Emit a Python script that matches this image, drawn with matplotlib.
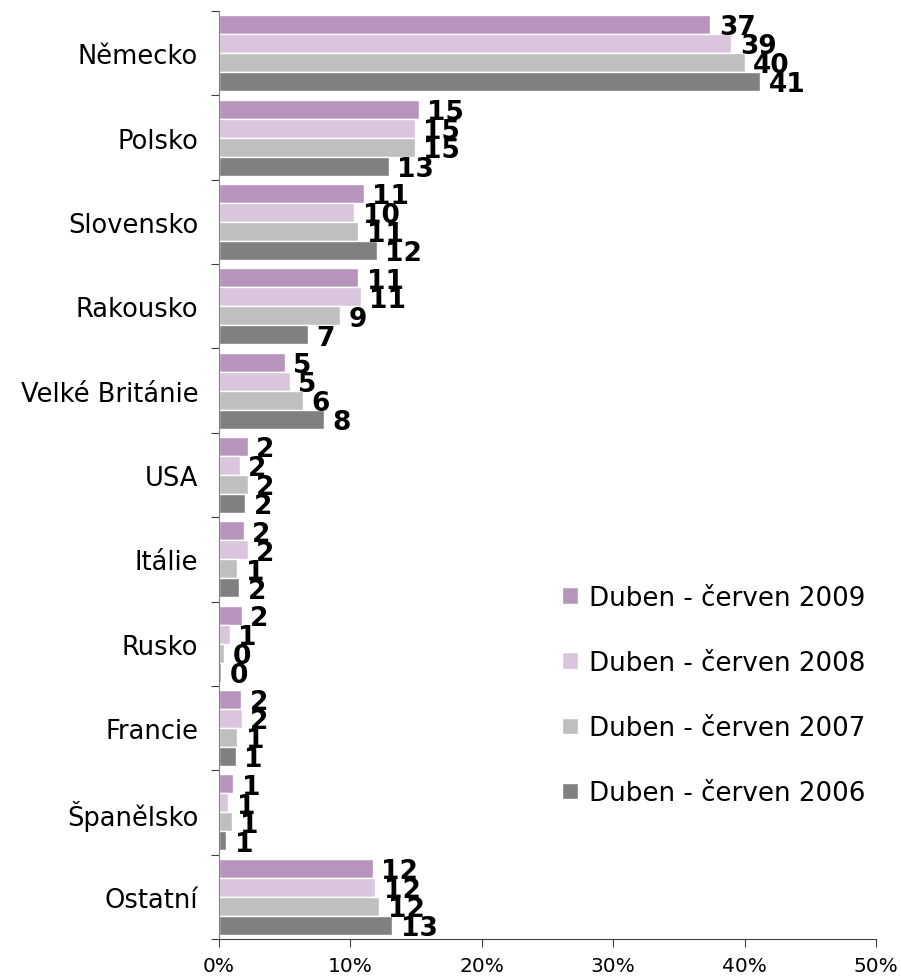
import matplotlib
matplotlib.use("Agg")
import matplotlib.pyplot as plt
import numpy as np

plt.rcParams['font.family'] = ['DejaVu Sans']

categories = ["Německo", "Polsko", "Slovensko", "Rakousko", "Velké Británie",
              "USA", "Itálie", "Rusko", "Francie", "Španělsko", "Ostatní"]
series_names = ["Duben - červen 2009", "Duben - červen 2008",
                "Duben - červen 2007", "Duben - červen 2006"]
v2009 = [37.4, 15.2, 11.0, 10.6, 5.0, 2.2, 1.9, 1.75, 1.7, 1.1, 11.7]
v2008 = [39.0, 14.9, 10.3, 10.8, 5.4, 1.6, 2.2, 0.8, 1.75, 0.7, 11.9]
v2007 = [40.0, 14.9, 10.6, 9.2, 6.4, 2.2, 1.4, 0.4, 1.4, 1.0, 12.2]
v2006 = [41.2, 12.9, 12.0, 6.8, 8.0, 2.0, 1.55, 0.15, 1.3, 0.55, 13.2]
series_values = [v2009, v2008, v2007, v2006]
colors = ["#B794BC", "#D9C6DC", "#BFBFBF", "#808080"]
xticks = [0, 10, 20, 30, 40, 50]
xtick_labels = ["0%", "10%", "20%", "30%", "40%", "50%"]

fig = plt.figure(figsize=(9.01, 9.79), dpi=100)
ax = fig.add_axes([219/901, 1-940/979, (876-219)/901, (940-12)/979])

n = len(categories)
h = 0.225
y = np.arange(n)
for j, (name, vals, col) in enumerate(zip(series_names, series_values, colors)):
    pos = y + (j - 1.5) * h
    ax.barh(pos, vals, height=h, color=col, edgecolor="white", linewidth=1.0,
            label=name)
    for p, v in zip(pos, vals):
        ax.annotate(f"{int(v + 0.5)}", xy=(v, p), xytext=(6, -2),
                    textcoords="offset points", va="center", ha="left",
                    fontsize=19, fontweight="bold", color="black")

ax.set_xlim(0, 50)
ax.set_ylim(n - 0.5, -0.5)
ax.set_xticks(xticks)
ax.set_xticklabels(xtick_labels, fontsize=14.5)
ax.set_yticks(np.arange(n + 1) - 0.5)
ax.set_yticklabels([])
ax.set_yticks(y, minor=True)
ax.set_yticklabels(categories, minor=True, fontsize=18.5)
ax.tick_params(axis="y", which="minor", length=0, pad=15)
ax.tick_params(axis="y", which="major", length=6, color="#404040")
ax.tick_params(axis="x", length=6, pad=6, color="#404040")
for s in ["top", "right"]:
    ax.spines[s].set_visible(False)
ax.spines["left"].set_color("#808080")
ax.spines["bottom"].set_color("#404040")

leg = ax.legend(loc="upper left", bbox_to_anchor=(0.487, 0.407), frameon=False,
                fontsize=18.8, handlelength=0.6, handleheight=0.6,
                handletextpad=0.4, labelspacing=1.5)

fig.savefig("out.png", dpi=100)
